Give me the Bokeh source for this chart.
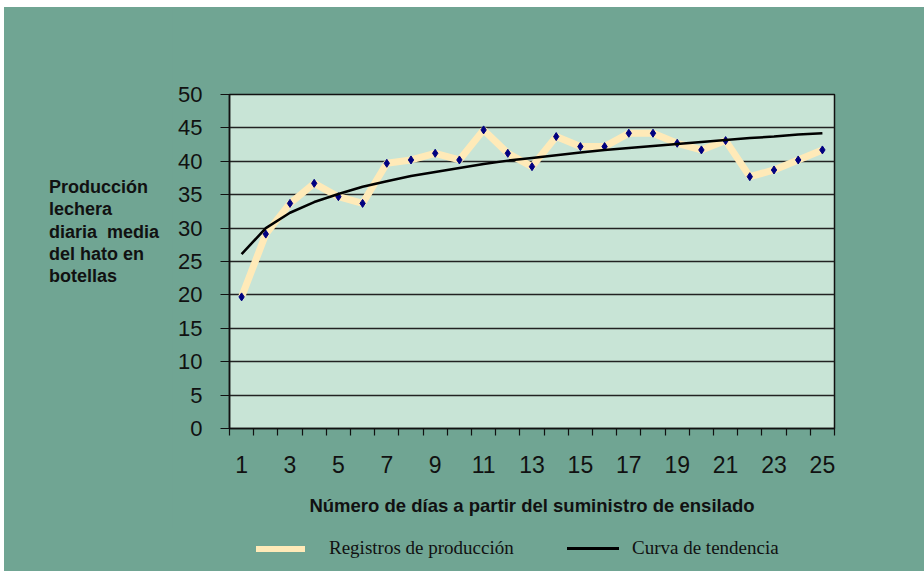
from bokeh.plotting import figure
from bokeh.models import FixedTicker, Range1d, Div
from bokeh.layouts import row, column
from bokeh.embed import file_html
from bokeh.resources import INLINE

# ---- data ----
days = list(range(1, 26))
production = [19.7, 29.1, 33.7, 36.7, 34.7, 33.7, 39.7, 40.2, 41.2, 40.2,
              44.7, 41.2, 39.2, 43.7, 42.2, 42.2, 44.2, 44.2, 42.7, 41.7,
              43.1, 37.7, 38.7, 40.2, 41.7]
trend = [26.1, 30.0, 32.3, 33.9, 35.1, 36.2, 37.0, 37.8, 38.4, 39.0,
         39.6, 40.1, 40.5, 40.9, 41.3, 41.7, 42.0, 42.3, 42.6, 42.9,
         43.2, 43.5, 43.7, 44.0, 44.2]
y_ticks = [0, 5, 10, 15, 20, 25, 30, 35, 40, 45, 50]
x_label_ticks = [1, 3, 5, 7, 9, 11, 13, 15, 17, 19, 21, 23, 25]
y_title_lines = ["Producción", "lechera", "diaria&nbsp; media", "del hato en", "botellas"]
x_title = "Número de días a partir del suministro de ensilado"
legend_labels = ["Registros de producción", "Curva de tendencia"]

BG = "#70A593"
PLOT_BG = "#C8E4D6"
YELLOW = "#FFEAB8"

p = figure(width=752, height=521, output_backend="svg", toolbar_location=None,
           x_range=Range1d(0.5, 25.5), y_range=Range1d(0, 50),
           min_border_left=57, min_border_right=90,
           min_border_top=87, min_border_bottom=100)
p.margin = 0
p.background_fill_color = PLOT_BG
p.border_fill_color = BG
p.outline_line_color = "#111111"
p.outline_line_width = 1.5

# grid
p.xgrid.grid_line_color = None
p.ygrid.ticker = FixedTicker(ticks=y_ticks)
p.ygrid.grid_line_color = "#222222"
p.ygrid.grid_line_width = 1.3

# y axis
p.yaxis.ticker = FixedTicker(ticks=y_ticks)
p.yaxis.axis_line_color = "#111111"
p.yaxis.axis_line_width = 1.5
p.yaxis.major_tick_line_color = "#111111"
p.yaxis.major_tick_out = 9
p.yaxis.major_tick_in = 0
p.yaxis.minor_tick_line_color = None
p.yaxis.major_label_standoff = 18
p.yaxis.major_label_text_font = "Liberation Sans"
p.yaxis.major_label_text_font_size = "22px"
p.yaxis.major_label_text_color = "#111111"

# x axis: boundary ticks as minor ticks, labels on odd days
boundaries = [d - 0.5 for d in days] + [days[-1] + 0.5]
p.xaxis.ticker = FixedTicker(ticks=x_label_ticks, minor_ticks=boundaries)
p.xaxis.axis_line_color = "#111111"
p.xaxis.axis_line_width = 1.5
p.xaxis.major_tick_line_color = None
p.xaxis.major_tick_out = 0
p.xaxis.major_tick_in = 0
p.xaxis.minor_tick_line_color = "#111111"
p.xaxis.minor_tick_line_width = 1.2
p.xaxis.minor_tick_out = 7
p.xaxis.minor_tick_in = 0
p.xaxis.major_label_standoff = 20
p.xaxis.major_label_text_font = "Liberation Sans"
p.xaxis.major_label_text_font_size = "23px"
p.xaxis.major_label_text_color = "#111111"
p.xaxis.axis_label = x_title
p.xaxis.axis_label_text_font = "Liberation Sans"
p.xaxis.axis_label_text_font_style = "bold"
p.xaxis.axis_label_text_font_size = "18.5px"
p.xaxis.axis_label_text_color = "#111111"
p.xaxis.axis_label_standoff = 19

# series
p.line(days, production, line_color=YELLOW, line_width=7)
p.scatter(days, production, marker="diamond", size=8,
          fill_color="#000080", line_color="#000080")
p.line(days, trend, line_color="#000000", line_width=2.5)

# y-axis title (horizontal, multi-line) to the left of the plot
ytitle_html = (
    '<div style="position:relative;width:168px;height:521px;">'
    '<div style="position:absolute;left:45px;top:169px;'
    'font-family:\'Liberation Sans\';font-weight:bold;font-size:18px;'
    'line-height:22.25px;color:#111111;white-space:nowrap;">'
    + "<br>".join(y_title_lines) +
    '</div></div>'
)
ydiv = Div(text=ytitle_html, width=168, height=521, margin=0,
           styles={"background-color": BG})

# legend strip under the plot
legend_html = (
    '<div style="position:relative;width:920px;height:43px;">'
    f'<div style="position:absolute;left:252px;top:18px;width:49px;height:6px;background:{YELLOW};"></div>'
    '<div style="position:absolute;left:325px;top:9px;height:22px;line-height:22px;'
    'font-family:\'Liberation Serif\';font-size:19px;color:#111111;white-space:nowrap;">'
    f'{legend_labels[0]}</div>'
    '<div style="position:absolute;left:563px;top:19px;width:52px;height:3px;background:#000000;"></div>'
    '<div style="position:absolute;left:628px;top:9px;height:22px;line-height:22px;'
    'font-family:\'Liberation Serif\';font-size:19px;color:#111111;white-space:nowrap;">'
    f'{legend_labels[1]}</div>'
    '</div>'
)
legdiv = Div(text=legend_html, width=920, height=43, margin=0,
             styles={"background-color": BG})

body = row(ydiv, p, spacing=0, margin=0, styles={"background-color": BG})
layout = column(body, legdiv, spacing=0, margin=(7, 0, 0, 4),
                styles={"background-color": BG})

open("out.html", "w").write(file_html(layout, INLINE))
